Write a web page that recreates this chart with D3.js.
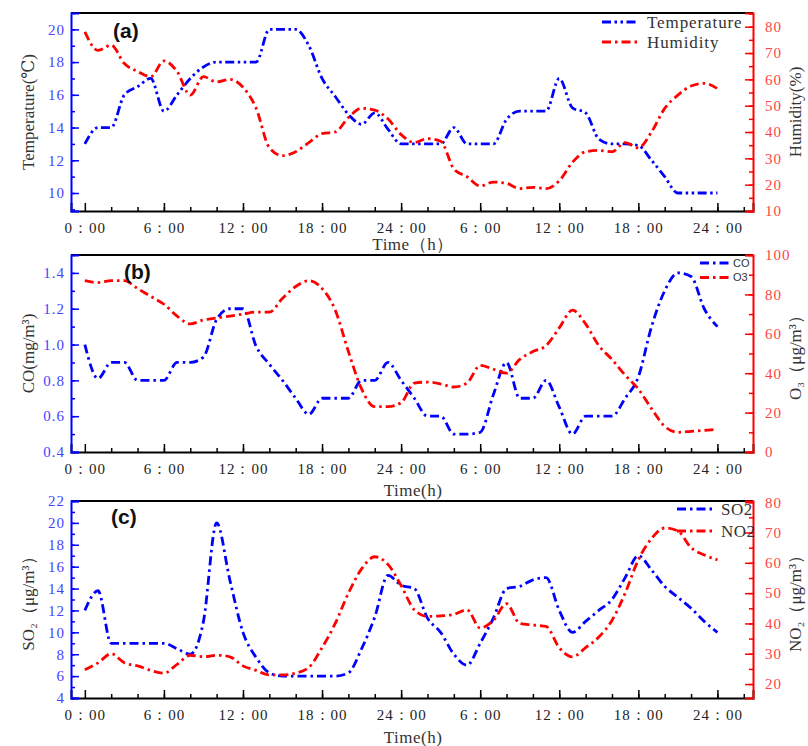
<!DOCTYPE html>
<html>
<head>
<meta charset="utf-8">
<script src="https://cdn.jsdelivr.net/npm/d3@7"></script>
<style>
  body { margin: 0; background: #fff; }
  svg { display: block; }
</style>
</head>
<body>
<svg width="808" height="746"></svg>
<script>
(function(d3) {
    "use strict";

// hours over two days, 0 .. 48
var hours = [0, 1, 2, 3, 4, 5, 6, 7, 8, 9, 10, 11, 12, 13, 14, 15, 16, 17, 18, 19, 20, 21, 22, 23, 24,
    25, 26, 27, 28, 29, 30, 31, 32, 33, 34, 35, 36, 37, 38, 39, 40, 41, 42, 43, 44, 45, 46, 47, 48];

var temperature = [13, 14, 14, 16, 16.5, 17, 15, 16, 17, 17.7, 18, 18, 18, 18, 20, 20, 20, 19, 17, 15.9, 14.8, 14.2, 14.9, 13.9, 13,
    13, 13, 13, 14, 13, 13, 13, 14.5, 15, 15, 15, 17, 15.2, 14.9, 13.3, 13, 13, 12.9, 12, 11, 10, 10, 10, 10];
var humidity = [78, 71, 73, 66, 63, 61, 67, 63, 54, 61, 59, 60, 57, 49, 34, 31, 32.5, 36, 39.4, 40, 45.5, 49, 48.3, 45, 39,
    36, 37.5, 36.5, 26, 23, 19.5, 21, 20.5, 18.5, 19, 18.5, 21.5, 28.5, 32.5, 33, 32.5, 36, 34, 40, 49, 54, 57.5, 58.5, 56.5];

var co = [1.0, 0.81, 0.9, 0.9, 0.8, 0.8, 0.8, 0.9, 0.9, 0.93, 1.14, 1.2, 1.2, 0.99, 0.89, 0.8, 0.7, 0.61, 0.7, 0.7, 0.7, 0.8, 0.8, 0.9, 0.8,
    0.7, 0.6, 0.6, 0.5, 0.5, 0.51, 0.72, 0.9, 0.7, 0.7, 0.8, 0.65, 0.5, 0.6, 0.6, 0.6, 0.7, 0.82, 1.1, 1.3, 1.4, 1.38, 1.2, 1.1];
var o3 = [87, 86, 87, 87, 83, 79, 75, 69, 65, 67, 68, 69, 70, 71, 71, 78, 84, 87, 83, 72, 51, 32, 23, 23, 25,
    35, 35.5, 34.5, 33, 35, 44, 42, 40, 47, 51, 54, 63, 72, 65, 54, 47, 39, 32, 22, 13, 10, 10.5, 11, 11.5];

var so2 = [12, 13.8, 9, 9, 9, 9, 9, 8.5, 8, 11, 20, 14.8, 10, 7.7, 6.3, 6, 6, 6, 6, 6, 6.3, 8.5, 11.4, 15.2, 14.3,
    14, 11.3, 10, 8, 7, 9, 11.3, 14, 14.2, 14.8, 15, 12, 10, 11, 12, 13, 15, 17, 15.7, 14.2, 13.2, 12.2, 11, 10];
var no2 = [24.7, 27, 30, 27, 26, 24.5, 23.6, 26.5, 29.5, 29, 29.5, 29, 26, 24.5, 23, 23, 23.6, 25.5, 32, 40, 50, 58, 62, 59.5, 52.5,
    44.5, 42.3, 42.5, 43, 44.5, 38.5, 41, 46.5, 40, 39.5, 39, 32, 29, 32, 35.5, 41, 50, 61, 68, 71.5, 70.5, 65, 62.6, 61];

// tick labels
var hourTicks = [0, 6, 12, 18, 24, 30, 36, 42, 48];
var hourLabels = ["0：00", "6：00", "12：00", "18：00", "24：00", "6：00", "12：00", "18：00", "24：00"];
var tempTicks = [10, 12, 14, 16, 18, 20];
var humTicks = [10, 20, 30, 40, 50, 60, 70, 80];
var coTicks = [0.4, 0.6, 0.8, 1.0, 1.2, 1.4];
var o3Ticks = [0, 20, 40, 60, 80, 100];
var so2Ticks = [4, 6, 8, 10, 12, 14, 16, 18, 20, 22];
var no2Ticks = [20, 30, 40, 50, 60, 70, 80];

var svg = d3.select("svg"),
    left = 71,
    right = 753,
    blue = "#0000ff",
    red = "#ff0000",
    serif = "'Liberation Serif', 'DejaVu Serif', serif",
    dashDot = "9,4,2.5,4",
    dashDotDot = "9,3.5,2.5,3.5,2.5,3.5";

var x = d3.scaleLinear().domain([-1.05, 50.7]).range([left, right]);

var panels = [
    {
        top: 13, bottom: 211, tag: "(a)", tagX: 113, tagY: 38,
        xTitle: "Time（h）", xTitleY: 250,
        l: { values: temperature, domain: [8.9, 21], ticks: tempTicks, minor: 1, fmt: d3.format("d"),
             title: "Temperature(℃)", name: "Temperature", dash: dashDotDot },
        r: { values: humidity, domain: [10, 85.2], ticks: humTicks, minor: 5, fmt: d3.format("d"),
             title: "Humidity(%)", name: "Humidity", dash: dashDot },
        legend: { x1: 602, x2: 637, tx: 647, y: 22, gap: 20, size: 17, spacing: 0.9, font: serif }
    },
    {
        top: 255, bottom: 452, tag: "(b)", tagX: 124, tagY: 279,
        xTitle: "Time(h)", xTitleY: 496,
        l: { values: co, domain: [0.4, 1.5], ticks: coTicks, minor: 0.1, fmt: d3.format(".1f"),
             title: "CO(mg/m³)", name: "CO", dash: dashDot },
        r: { values: o3, domain: [0, 100], ticks: o3Ticks, minor: 10, fmt: d3.format("d"),
             title: "O₃（μg/m³）", name: "O3", dash: dashDot },
        legend: { x1: 700, x2: 729, tx: 733, y: 263, gap: 14.5, size: 11, spacing: 0, font: "'Liberation Sans', Arial, sans-serif" }
    },
    {
        top: 501, bottom: 698, tag: "(c)", tagX: 111, tagY: 524,
        xTitle: "Time(h)", xTitleY: 743,
        l: { values: so2, domain: [4, 22], ticks: so2Ticks, minor: 1, fmt: d3.format("d"),
             title: "SO₂（μg/m³）", name: "SO2", dash: dashDot },
        r: { values: no2, domain: [15.4, 80.4], ticks: no2Ticks, minor: 5, fmt: d3.format("d"),
             title: "NO₂（μg/m³）", name: "NO2", dash: dashDot },
        legend: { x1: 677, x2: 713, tx: 721, y: 509, gap: 22, size: 17, spacing: 0.5, font: serif }
    }
];

function minorValues(domain, step) {
    var lo = Math.ceil(domain[0] / step - 1e-6), hi = Math.floor(domain[1] / step + 1e-6);
    return d3.range(lo, hi + 1).map(function(k) { return +(k * step).toFixed(4); });
}

function styleAxis(g, color, textColor) {
    g.select(".domain").attr("stroke", color).attr("stroke-width", 2);
    g.selectAll(".tick line").attr("stroke", color).attr("stroke-width", 1.5);
    g.selectAll(".tick text")
        .attr("fill", textColor)
        .style("font-family", serif)
        .style("font-size", "15px")
        .style("letter-spacing", "1px");
}

panels.forEach(function(p) {
    var yL = d3.scaleLinear().domain(p.l.domain).range([p.bottom, p.top]),
        yR = d3.scaleLinear().domain(p.r.domain).range([p.bottom, p.top]);

    // top frame
    svg.append("line")
        .attr("x1", left).attr("x2", right)
        .attr("y1", p.top).attr("y2", p.top)
        .attr("stroke", "#000").attr("stroke-width", 2);

    // bottom axis: minor then major
    svg.append("g")
        .attr("transform", "translate(0," + p.bottom + ")")
        .call(d3.axisBottom(x).tickValues(d3.range(2, 51, 2)).tickSize(-4).tickFormat(""))
        .call(function(g) { g.select(".domain").remove(); })
        .call(styleAxis, "#000", "#222");
    svg.append("g")
        .attr("transform", "translate(0," + p.bottom + ")")
        .call(d3.axisBottom(x).tickValues(hourTicks).tickSize(-8).tickPadding(11)
            .tickFormat(function(d, i) { return hourLabels[i]; }))
        .call(styleAxis, "#000", "#222");

    // left axis
    svg.append("g")
        .attr("transform", "translate(" + left + ",0)")
        .call(d3.axisLeft(yL).tickValues(minorValues(p.l.domain, p.l.minor)).tickSize(-4).tickFormat(""))
        .call(function(g) { g.select(".domain").remove(); })
        .call(styleAxis, blue, blue);
    svg.append("g")
        .attr("transform", "translate(" + left + ",0)")
        .call(d3.axisLeft(yL).tickValues(p.l.ticks).tickSize(-8).tickPadding(6).tickFormat(p.l.fmt))
        .call(styleAxis, blue, "#4444ff");

    // right axis
    svg.append("g")
        .attr("transform", "translate(" + right + ",0)")
        .call(d3.axisRight(yR).tickValues(minorValues(p.r.domain, p.r.minor)).tickSize(-4).tickFormat(""))
        .call(function(g) { g.select(".domain").remove(); })
        .call(styleAxis, red, red);
    svg.append("g")
        .attr("transform", "translate(" + right + ",0)")
        .call(d3.axisRight(yR).tickValues(p.r.ticks).tickSize(-8).tickPadding(12).tickFormat(p.r.fmt))
        .call(styleAxis, red, "#ff4444");

    // series
    var lineL = d3.line()
        .x(function(d, i) { return x(hours[i]); })
        .y(function(d) { return yL(d); })
        .curve(d3.curveMonotoneX);
    var lineR = d3.line()
        .x(function(d, i) { return x(hours[i]); })
        .y(function(d) { return yR(d); })
        .curve(d3.curveMonotoneX);

    svg.append("path")
        .attr("fill", "none")
        .attr("stroke", blue)
        .attr("stroke-width", 2.8)
        .attr("stroke-dasharray", p.l.dash)
        .attr("d", lineL(p.l.values));
    svg.append("path")
        .attr("fill", "none")
        .attr("stroke", red)
        .attr("stroke-width", 2.8)
        .attr("stroke-dasharray", p.r.dash)
        .attr("d", lineR(p.r.values));

    // axis titles
    var midY = (p.top + p.bottom) / 2;
    svg.append("text")
        .attr("transform", "translate(28," + midY + ") rotate(-90)")
        .attr("text-anchor", "middle")
        .attr("dy", "0.35em")
        .attr("fill", "#333")
        .style("font-family", serif)
        .style("font-size", "17px")
        .text(p.l.title);
    svg.append("text")
        .attr("transform", "translate(795," + midY + ") rotate(-90)")
        .attr("text-anchor", "middle")
        .attr("dy", "0.35em")
        .attr("fill", "#333")
        .style("font-family", serif)
        .style("font-size", "17px")
        .text(p.r.title);
    svg.append("text")
        .attr("x", 413)
        .attr("y", p.xTitleY)
        .attr("text-anchor", "middle")
        .attr("fill", "#333")
        .style("font-family", serif)
        .style("font-size", "17px")
        .style("letter-spacing", "0.5px")
        .text(p.xTitle);

    // panel tag
    svg.append("text")
        .attr("x", p.tagX)
        .attr("y", p.tagY)
        .attr("fill", "#111")
        .style("font-family", "'Liberation Sans', Arial, sans-serif")
        .style("font-weight", "bold")
        .style("font-size", "21px")
        .text(p.tag);

    // legend
    var lg = p.legend;
    [[p.l, blue], [p.r, red]].forEach(function(s, k) {
        var yy = lg.y + k * lg.gap;
        svg.append("line")
            .attr("x1", lg.x1).attr("x2", lg.x2)
            .attr("y1", yy).attr("y2", yy)
            .attr("stroke", s[1])
            .attr("stroke-width", 2.8)
            .attr("stroke-dasharray", s[0].dash);
        svg.append("text")
            .attr("x", lg.tx)
            .attr("y", yy)
            .attr("dy", "0.35em")
            .attr("fill", "#333")
            .style("font-family", lg.font)
            .style("font-size", lg.size + "px")
            .style("letter-spacing", lg.spacing + "px")
            .text(s[0].name);
    });
});

}(d3));
</script>
</body>
</html>
